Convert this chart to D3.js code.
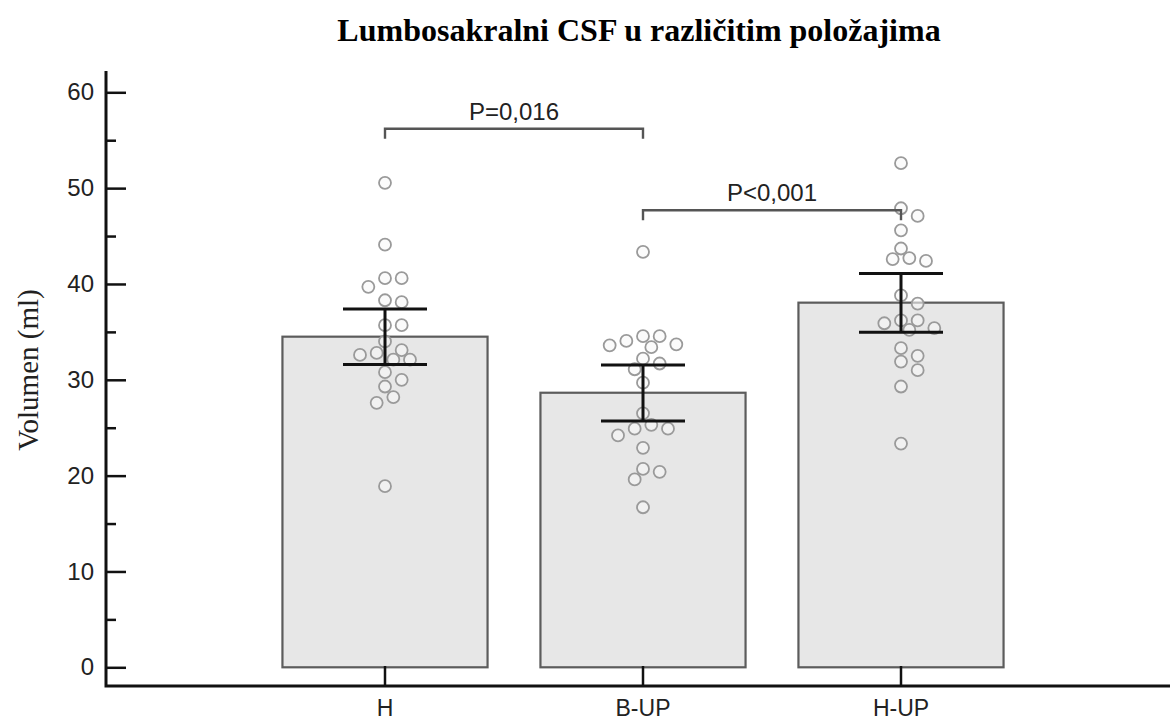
<!DOCTYPE html>
<html>
<head>
<meta charset="utf-8">
<script src="https://cdn.jsdelivr.net/npm/d3@7"></script>
<style>
  body { margin: 0; background: #fff; }
  svg { display: block; }
</style>
</head>
<body>
<script>
// values
const groups = ["H", "B-UP", "H-UP"];
const means = [34.5, 28.65, 38.05];
const errUpper = [37.4, 31.55, 41.1];
const errLower = [31.6, 25.7, 34.95];

const dotsH = [50.55, 44.1, 40.6, 40.6, 39.7, 38.3, 38.1, 35.7, 35.7, 34.0, 33.1, 32.8, 32.6, 32.1, 32.1, 30.8, 30.0, 29.3, 28.2, 27.6, 18.9];
const dotsBUP = [43.35, 34.55, 34.55, 34.06, 33.7, 33.6, 33.4, 32.2, 31.7, 31.1, 29.7, 26.5, 25.3, 24.9, 24.9, 24.2, 22.9, 20.7, 20.4, 19.6, 16.7];
const dotsHUP = [52.6, 47.9, 47.1, 45.6, 43.7, 42.7, 42.6, 42.4, 38.8, 37.95, 36.2, 36.2, 35.9, 35.4, 35.2, 33.3, 32.5, 31.9, 31.0, 29.3, 23.35];

const yTicks = [0, 10, 20, 30, 40, 50, 60];
const yMinor = [5, 15, 25, 35, 45, 55];

const comparisons = [
    { from: "H", to: "B-UP", level: 56.2, label: "P=0,016" },
    { from: "B-UP", to: "H-UP", level: 47.7, label: "P<0,001" }
];

const title = "Lumbosakralni CSF u različitim položajima";
const yLabel = "Volumen (ml)";

const svgWidth = 1170, svgHeight = 720;
const sans = "'Liberation Sans', Arial, sans-serif";
const serif = "'Liberation Serif', 'Times New Roman', serif";

const svg = d3.select("body")
    .append("svg")
    .attr("width", svgWidth)
    .attr("height", svgHeight);

const yScale = d3.scaleLinear()
    .domain([0, 60])
    .range([667.3, 92.3]);

const xScale = d3.scaleBand()
    .domain(groups)
    .range([256, 1030])
    .paddingInner(0.205)
    .paddingOuter(0.1025);

const cx = g => xScale(g) + xScale.bandwidth() / 2;

const axisX = 106, axisY = 686;

// title
svg.append("text")
    .attr("x", 639)
    .attr("y", 41)
    .attr("text-anchor", "middle")
    .style("font-family", serif)
    .style("font-weight", "bold")
    .style("font-size", "32px")
    .text(title);

// y label
svg.append("text")
    .attr("transform", `translate(38,370) rotate(-90)`)
    .attr("text-anchor", "middle")
    .style("font-family", serif)
    .style("font-size", "29px")
    .style("fill", "#222")
    .text(yLabel);

// bars
svg.selectAll("rect.bar")
    .data(groups)
    .enter()
    .append("rect")
    .attr("class", "bar")
    .attr("x", g => xScale(g))
    .attr("width", xScale.bandwidth())
    .attr("y", (g, i) => yScale(means[i]))
    .attr("height", (g, i) => yScale(0) - yScale(means[i]))
    .attr("fill", "#e7e7e7")
    .attr("stroke", "#5c5c5c")
    .attr("stroke-width", 2.2);

// simple greedy beeswarm so the dots sit side by side
const step = 8.33, minDist = 12.5;
function swarm(values, g) {
    const placed = [];
    const sorted = values.slice().sort((a, b) => b - a);
    sorted.forEach(v => {
        const y = yScale(v);
        let k = 0;
        while (true) {
            const n = Math.ceil(k / 2) * (k % 2 === 1 ? 1 : -1);
            const x = cx(g) + n * step;
            const hit = placed.some(p => Math.hypot(p.x - x, p.y - y) < minDist);
            if (!hit) { placed.push({ x: x, y: y, v: v }); break; }
            k++;
        }
    });
    return placed;
}

const dotData = [].concat(
    swarm(dotsH, "H"),
    swarm(dotsBUP, "B-UP"),
    swarm(dotsHUP, "H-UP")
);

svg.selectAll("circle.dot")
    .data(dotData)
    .enter()
    .append("circle")
    .attr("class", "dot")
    .attr("cx", d => d.x)
    .attr("cy", d => d.y)
    .attr("r", 6)
    .attr("fill", "#f8f8f8")
    .attr("fill-opacity", 0.6)
    .attr("stroke", "#9a9a9a")
    .attr("stroke-width", 1.8);

// error bars
const capHalf = 42;
const err = svg.append("g")
    .attr("stroke", "#111")
    .attr("stroke-width", 3);
groups.forEach((g, i) => {
    err.append("line")
        .attr("x1", cx(g)).attr("x2", cx(g))
        .attr("y1", yScale(errUpper[i])).attr("y2", yScale(errLower[i]));
    [errUpper[i], errLower[i]].forEach(v => {
        err.append("line")
            .attr("x1", cx(g) - capHalf).attr("x2", cx(g) + capHalf)
            .attr("y1", yScale(v)).attr("y2", yScale(v));
    });
});

// significance brackets
comparisons.forEach(c => {
    const y = yScale(c.level);
    const x1 = cx(c.from), x2 = cx(c.to);
    svg.append("path")
        .attr("d", `M${x1},${y + 10}V${y}H${x2}V${y + 10}`)
        .attr("fill", "none")
        .attr("stroke", "#555")
        .attr("stroke-width", 2.4);
    svg.append("text")
        .attr("x", (x1 + x2) / 2)
        .attr("y", y - 9)
        .attr("text-anchor", "middle")
        .style("font-family", sans)
        .style("font-size", "24px")
        .style("fill", "#222")
        .text(c.label);
});

// y axis
const yAxis = svg.append("g")
    .attr("transform", `translate(${axisX},0)`)
    .call(d3.axisLeft(yScale).tickValues(yTicks).tickSize(-20).tickSizeOuter(0).tickPadding(12));
yAxis.select(".domain").remove();
yAxis.selectAll(".tick line").attr("stroke", "#111").attr("stroke-width", 2.5);
yAxis.selectAll(".tick text")
    .style("font-family", sans)
    .style("font-size", "24px")
    .style("fill", "#222");

const yMinorAxis = svg.append("g")
    .attr("transform", `translate(${axisX},0)`)
    .call(d3.axisLeft(yScale).tickValues(yMinor).tickSize(-10).tickSizeOuter(0).tickFormat(""));
yMinorAxis.select(".domain").remove();
yMinorAxis.selectAll(".tick line").attr("stroke", "#111").attr("stroke-width", 2.5);

// x axis
const xAxis = svg.append("g")
    .attr("transform", `translate(0,${axisY})`)
    .call(d3.axisBottom(xScale).tickSize(-20).tickSizeOuter(0).tickPadding(14));
xAxis.select(".domain").remove();
xAxis.selectAll(".tick line").attr("stroke", "#111").attr("stroke-width", 2.5);
xAxis.selectAll(".tick text")
    .style("font-family", sans)
    .style("font-size", "23px")
    .style("fill", "#222");

// axis lines
svg.append("path")
    .attr("d", `M${axisX},71V${axisY}H${svgWidth}`)
    .attr("fill", "none")
    .attr("stroke", "#111")
    .attr("stroke-width", 3);
</script>
</body>
</html>
